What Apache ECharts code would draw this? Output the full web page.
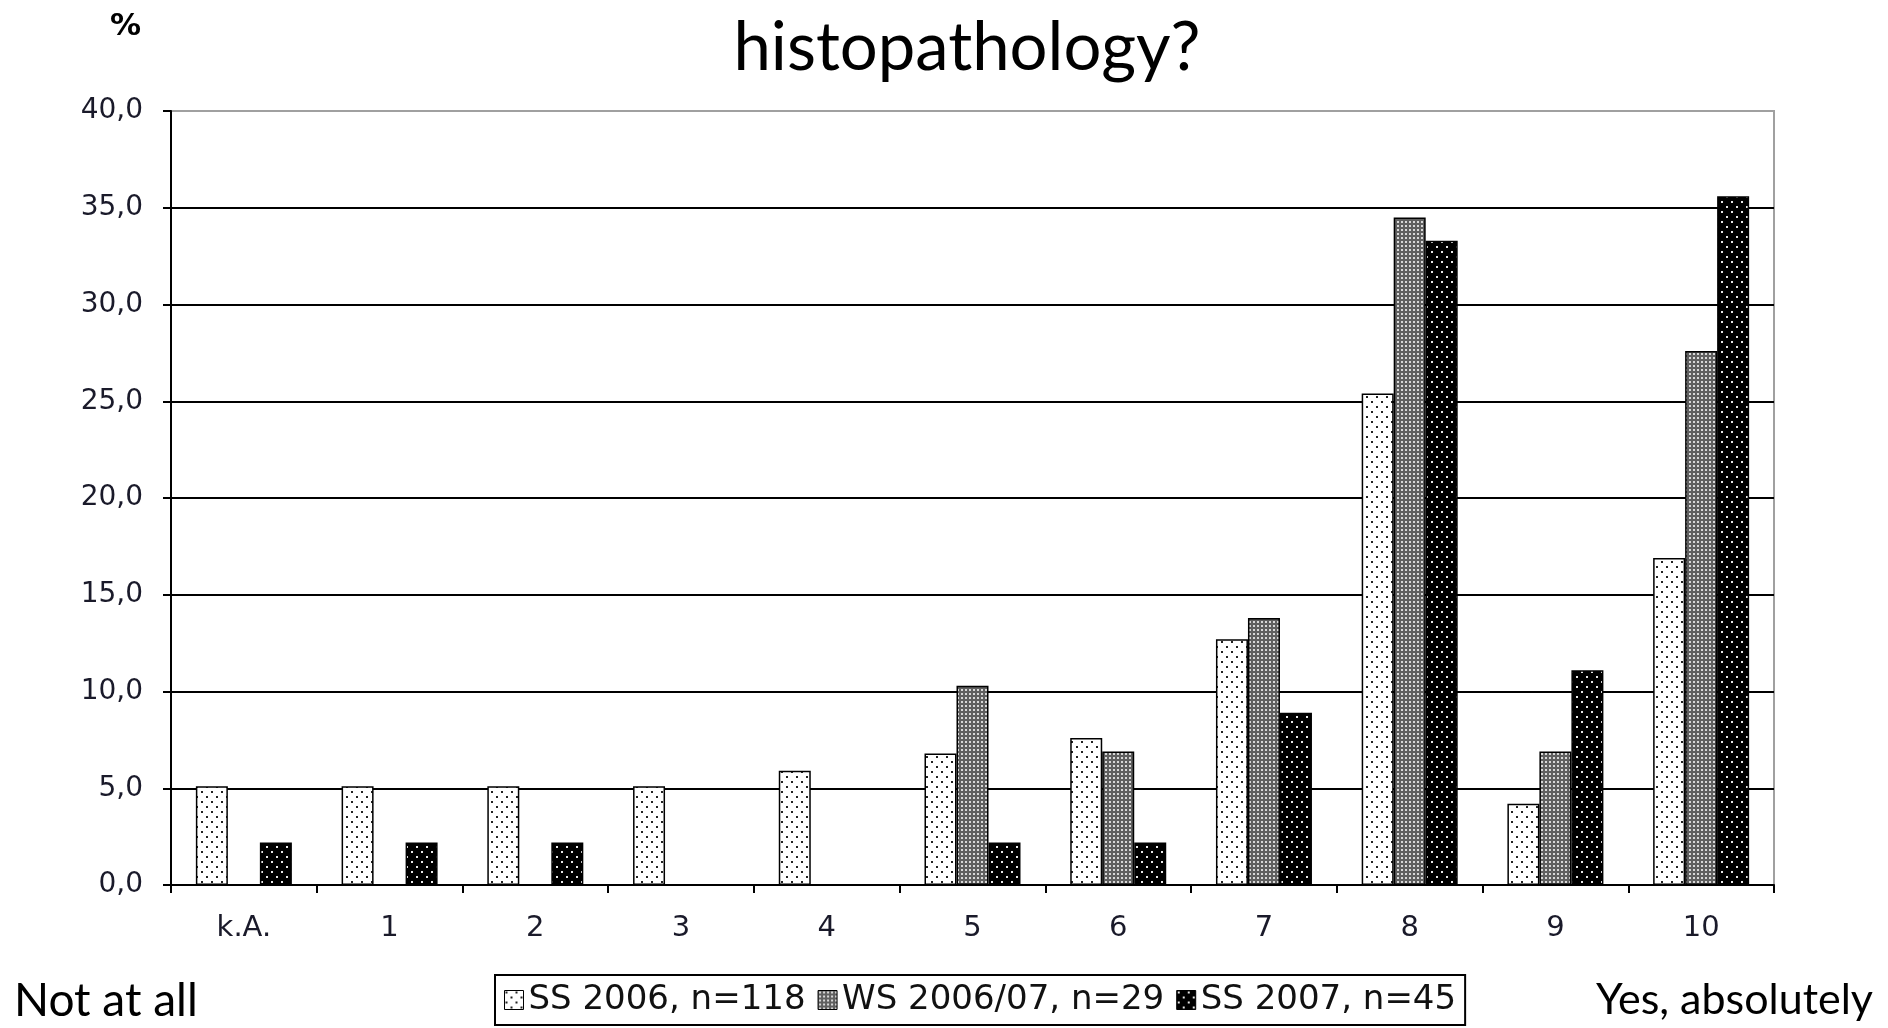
<!DOCTYPE html>
<html>
<head>
<meta charset="utf-8">
<script src="https://cdn.jsdelivr.net/npm/echarts@6/dist/echarts.min.js"></script>
<style>
  html, body { margin: 0; padding: 0; background: #fff; }
  #chart { width: 1888px; height: 1028px; }
</style>
</head>
<body>
<div id="chart"></div>
<script>
var categories = ['k.A.', '1', '2', '3', '4', '5', '6', '7', '8', '9', '10'];
var seriesNames = ['SS 2006, n=118', 'WS 2006/07, n=29', 'SS 2007, n=45'];
// Prozentwerte je Antwortstufe
var ss2006 = [5.1, 5.1, 5.1, 5.1, 5.9, 6.8, 7.6, 12.7, 25.4, 4.2, 16.9];
var ws2006 = ['-', '-', '-', '-', '-', 10.3, 6.9, 13.8, 34.5, 6.9, 27.6];
var ss2007 = [2.2, 2.2, 2.2, '-', '-', 2.2, 2.2, 8.9, 33.3, 11.1, 35.6];
var yTicks = { min: 0, max: 40, interval: 5 };

// kleine Kacheln fuer die Schraffur der Balken
function dotTile(bg, dot) {
  var c = document.createElement('canvas');
  c.width = 10; c.height = 10;
  var ctx = c.getContext('2d');
  ctx.fillStyle = bg; ctx.fillRect(0, 0, 10, 10);
  ctx.fillStyle = dot;
  ctx.fillRect(1, 1, 2, 2);
  ctx.fillRect(6, 6, 2, 2);
  return c;
}
function greyTile() {
  var c = document.createElement('canvas');
  c.width = 4; c.height = 4;
  var ctx = c.getContext('2d');
  ctx.fillStyle = '#606060'; ctx.fillRect(0, 0, 4, 4);
  ctx.fillStyle = '#d8d8d8'; ctx.fillRect(1, 1, 2, 2);
  return c;
}
var patterns = [
  { image: dotTile('#ffffff', '#222222'), repeat: 'repeat' },
  { image: greyTile(), repeat: 'repeat' },
  { image: dotTile('#000000', '#e8e8e8'), repeat: 'repeat' }
];

var myChart = echarts.init(document.getElementById('chart'));

var gridColors = ['#000', '#000', '#000', '#000', '#000', '#000', '#000', '#000', '#a0a0a0'];

function barSeries(i, data) {
  return {
    name: seriesNames[i],
    type: 'bar',
    barWidth: 32,
    barGap: '0%',
    data: data,
    itemStyle: {
      color: patterns[i],
      borderColor: '#000',
      borderWidth: 1.5
    }
  };
}

var option = {
  backgroundColor: '#fff',
  animation: false,
  grid: {
    left: 171, top: 111, right: 114, bottom: 143,
    show: true,
    borderColor: '#a0a0a0',
    borderWidth: 2
  },
  legend: {
    left: 495,
    top: 975,
    data: seriesNames,
    icon: 'rect',
    itemWidth: 19,
    itemHeight: 19,
    itemGap: 12,
    padding: [8, 9, 8, 9],
    borderColor: '#000',
    borderWidth: 2,
    itemStyle: { borderColor: '#000', borderWidth: 1 },
    textStyle: {
      fontFamily: 'DejaVu Sans',
      fontSize: 34,
      color: '#111'
    }
  },
  xAxis: {
    type: 'category',
    data: categories,
    axisLine: { lineStyle: { color: '#000', width: 2 } },
    axisTick: { show: true, length: 8, lineStyle: { color: '#000', width: 2 } },
    axisLabel: {
      margin: 29,
      fontFamily: 'DejaVu Sans',
      fontSize: 29,
      color: '#1a1a2a'
    },
    splitLine: { show: false }
  },
  yAxis: {
    type: 'value',
    min: yTicks.min,
    max: yTicks.max,
    interval: yTicks.interval,
    axisLine: { show: true, lineStyle: { color: '#000', width: 2 } },
    axisTick: { show: true, length: 8, lineStyle: { color: '#000', width: 2 } },
    axisLabel: {
      margin: 28,
      fontFamily: 'DejaVu Sans',
      fontSize: 28,
      color: '#1a1a2a',
      formatter: function (v) { return v.toFixed(1).replace('.', ','); }
    },
    splitLine: { show: true, lineStyle: { color: gridColors, width: 2 } }
  },
  graphic: [
    {
      type: 'text', x: 967, y: 15,
      style: { text: 'histopathology?', fill: '#000', font: '67px Lato', align: 'center' }
    },
    {
      type: 'text', x: 110, y: 11,
      style: { text: '%', fill: '#000', font: 'bold 31px "DejaVu Sans"' }
    },
    {
      type: 'text', x: 14, y: 978,
      style: { text: 'Not at all', fill: '#000', font: '46px Lato' }
    },
    {
      type: 'text', x: 1873, y: 979,
      style: { text: 'Yes, absolutely', fill: '#000', font: '43px Lato', align: 'right' }
    }
  ],
  series: [
    barSeries(0, ss2006),
    barSeries(1, ws2006),
    barSeries(2, ss2007)
  ]
};

myChart.setOption(option);
window.onresize = myChart.resize;
</script>
</body>
</html>
